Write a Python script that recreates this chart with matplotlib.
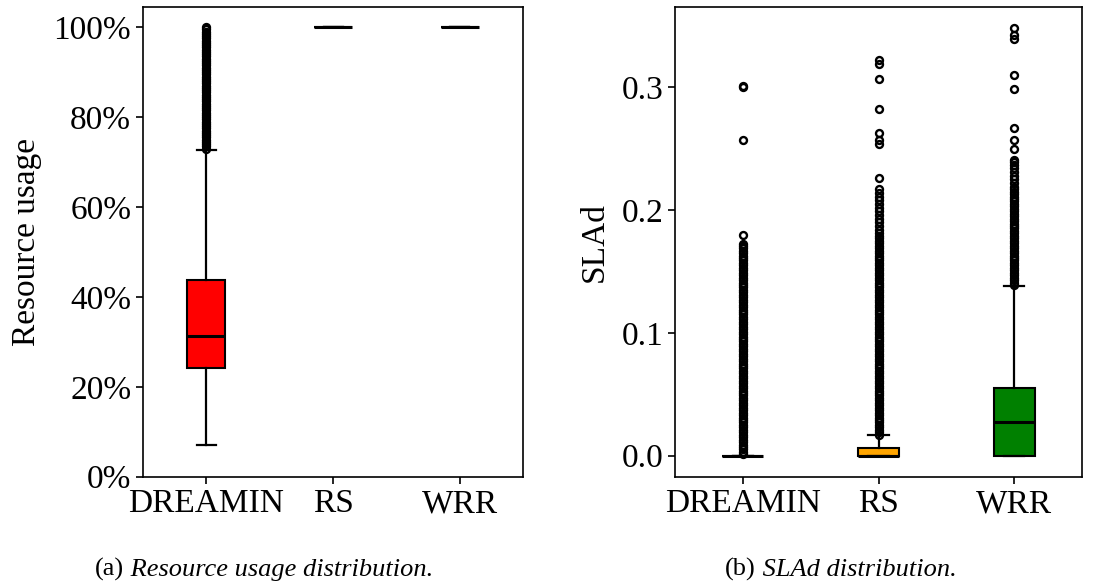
import matplotlib
matplotlib.use("Agg")
import matplotlib.pyplot as plt
from matplotlib.ticker import PercentFormatter

plt.rcParams['font.family'] = ['Liberation Serif', 'DejaVu Serif']
plt.rcParams['axes.linewidth'] = 1.2

methods = ['DREAMIN', 'RS', 'WRR']
box_colors = ['red', 'orange', 'green']

# Resource usage (%) - box statistics per method
usage_q1 = [24.1, 100.0, 100.0]
usage_med = [31.2, 100.0, 100.0]
usage_q3 = [43.8, 100.0, 100.0]
usage_whislo = [7.0, 100.0, 100.0]
usage_whishi = [72.6, 100.0, 100.0]
usage_fliers_dreamin = [
    73.0, 73.5, 74.0, 74.5, 75.0, 75.5, 76.0, 76.5, 77.0, 77.5, 78.0, 78.5,
    79.0, 79.5, 80.0, 80.5, 81.0, 81.5, 82.0, 82.5, 83.0, 83.5, 84.0, 84.5,
    85.0, 85.5, 86.0, 86.5, 87.0, 87.5, 88.0, 88.5, 89.0, 89.5, 90.0, 90.5,
    91.0, 91.5, 92.0, 92.5, 93.0, 93.5, 94.0, 94.5, 95.0, 95.5, 96.0, 96.5,
    97.0, 97.5, 98.0, 98.5, 99.0, 99.5, 100.0]
usage_fliers = [usage_fliers_dreamin, [], []]

# SLAd - box statistics per method
sla_q1 = [0.0, 0.0, 0.0]
sla_med = [0.0, 0.0, 0.0274]
sla_q3 = [0.0, 0.0065, 0.055]
sla_whislo = [0.0, 0.0, 0.0]
sla_whishi = [0.0, 0.0165, 0.138]
sla_fliers_dreamin = [
    0.001, 0.003, 0.005, 0.007, 0.009, 0.011, 0.013, 0.015, 0.017, 0.019,
    0.021, 0.023, 0.025, 0.027, 0.029, 0.031, 0.033, 0.035, 0.037, 0.039,
    0.041, 0.043, 0.045, 0.047, 0.049, 0.051, 0.053, 0.055, 0.057, 0.059,
    0.061, 0.063, 0.065, 0.067, 0.069, 0.071, 0.073, 0.075, 0.077, 0.079,
    0.081, 0.083, 0.085, 0.087, 0.089, 0.091, 0.093, 0.095, 0.097, 0.099,
    0.101, 0.103, 0.105, 0.107, 0.109, 0.111, 0.113, 0.115, 0.117, 0.119,
    0.121, 0.123, 0.125, 0.127, 0.129, 0.131, 0.133, 0.135, 0.137, 0.139,
    0.141, 0.143, 0.145, 0.147, 0.149, 0.151, 0.153, 0.155, 0.157, 0.159,
    0.161, 0.163, 0.165, 0.167, 0.169, 0.171, 0.172,
    0.180, 0.257, 0.300, 0.301]
sla_fliers_rs = [
    0.017, 0.019, 0.021, 0.023, 0.025, 0.027, 0.029, 0.031, 0.033, 0.035,
    0.037, 0.039, 0.041, 0.043, 0.045, 0.047, 0.049, 0.051, 0.053, 0.055,
    0.057, 0.059, 0.061, 0.063, 0.065, 0.067, 0.069, 0.071, 0.073, 0.075,
    0.077, 0.079, 0.081, 0.083, 0.085, 0.087, 0.089, 0.091, 0.093, 0.095,
    0.097, 0.099, 0.101, 0.103, 0.105, 0.107, 0.109, 0.111, 0.113, 0.115,
    0.117, 0.119, 0.121, 0.123, 0.125, 0.127, 0.129, 0.131, 0.133, 0.135,
    0.137, 0.139, 0.141, 0.143, 0.145, 0.147, 0.149, 0.151, 0.153, 0.155,
    0.157, 0.159, 0.161, 0.163, 0.165, 0.167, 0.169, 0.171, 0.173, 0.175,
    0.177, 0.179, 0.181, 0.184, 0.187, 0.190, 0.193, 0.196, 0.199, 0.202,
    0.205, 0.208, 0.211, 0.214, 0.217,
    0.226, 0.254, 0.257, 0.263, 0.282, 0.307, 0.319, 0.322]
sla_fliers_wrr = [
    0.139, 0.141, 0.143, 0.145, 0.147, 0.149, 0.151, 0.153, 0.155, 0.157,
    0.159, 0.161, 0.163, 0.165, 0.167, 0.169, 0.171, 0.173, 0.175, 0.177,
    0.179, 0.181, 0.183, 0.185, 0.187, 0.189, 0.191, 0.193, 0.195, 0.197,
    0.199, 0.201, 0.203, 0.205, 0.207, 0.209, 0.211, 0.213, 0.215, 0.217,
    0.219, 0.222, 0.225, 0.228, 0.231, 0.234, 0.237, 0.239, 0.241,
    0.250, 0.257, 0.267, 0.299, 0.310, 0.339, 0.343, 0.348]
sla_fliers = [sla_fliers_dreamin, sla_fliers_rs, sla_fliers_wrr]


def make_stats(q1, med, q3, lo, hi, fliers):
    return [dict(label=m, q1=a, med=b, q3=c, whislo=d, whishi=e, fliers=f)
            for m, a, b, c, d, e, f in zip(methods, q1, med, q3, lo, hi, fliers)]


def draw_box(ax, stats):
    bp = ax.bxp(stats, positions=[1, 2, 3], widths=0.3, patch_artist=True,
                boxprops=dict(linewidth=1.5, edgecolor='black'),
                medianprops=dict(color='black', linewidth=2.2),
                whiskerprops=dict(linewidth=1.6, color='black'),
                capprops=dict(linewidth=1.6, color='black'),
                flierprops=dict(marker='o', markerfacecolor='none',
                                markeredgecolor='black', markersize=5,
                                markeredgewidth=1.7))
    for patch, c in zip(bp['boxes'], box_colors):
        patch.set_facecolor(c)
    ax.tick_params(labelsize=24, length=5, width=1.2)
    return bp


fig = plt.figure(figsize=(10.97, 5.86), dpi=100)
ax1 = fig.add_axes([143 / 1097, 109.3 / 586, 380 / 1097, 469.7 / 586])
ax2 = fig.add_axes([675 / 1097, 109 / 586, 407 / 1097, 470 / 586])

# (a) resource usage
draw_box(ax1, make_stats(usage_q1, usage_med, usage_q3, usage_whislo,
                         usage_whishi, usage_fliers))
ax1.set_ylim(0, 104.5)
ax1.set_yticks([0, 20, 40, 60, 80, 100])
ax1.yaxis.set_major_formatter(PercentFormatter(decimals=0))
ax1.set_ylabel('Resource usage', fontsize=24, labelpad=8)

# (b) SLAd
draw_box(ax2, make_stats(sla_q1, sla_med, sla_q3, sla_whislo,
                         sla_whishi, sla_fliers))
ax2.set_yticks([0.0, 0.1, 0.2, 0.3])
ax2.set_ylabel('SLAd', fontsize=24, labelpad=8)

# captions: upright tag followed by italic text
for x, tag, txt in [(95, '(a)', ' Resource usage distribution.'),
                    (725, '(b)', ' SLAd distribution.')]:
    t = fig.text(x / 1097, 0.018, tag, fontsize=19, ha='left', va='baseline')
    ax1.annotate(txt, xy=(1, 0), xycoords=t, fontsize=19, style='italic',
                 ha='left', va='bottom', annotation_clip=False)

fig.savefig('out.png', dpi=100)
